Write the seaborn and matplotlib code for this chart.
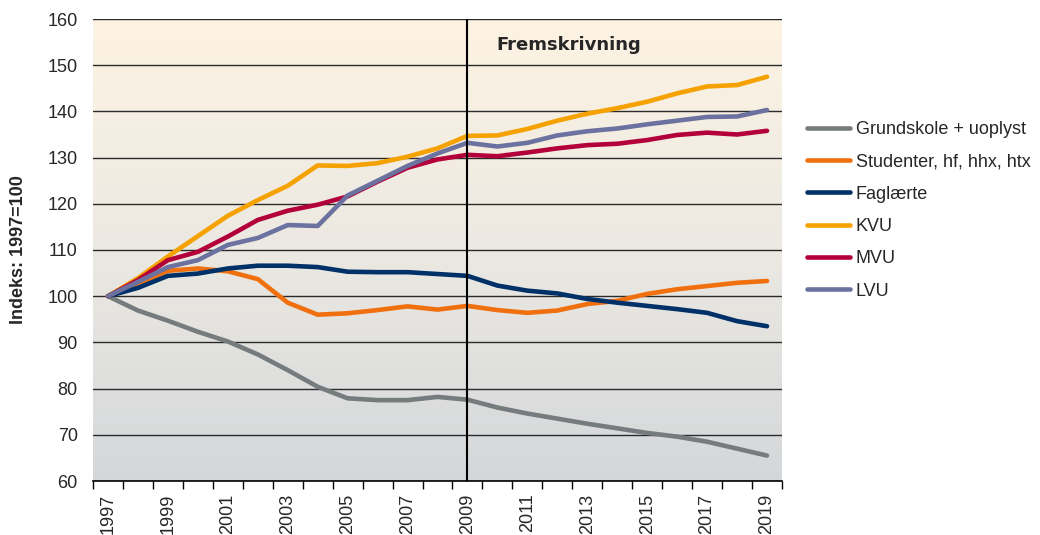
import numpy as np
import pandas as pd
import matplotlib
matplotlib.use("Agg")
import matplotlib.pyplot as plt
from matplotlib.ticker import FixedLocator, NullFormatter
from matplotlib.lines import Line2D
import seaborn as sns

years = list(range(1997, 2020))
grundskole = [100, 96.9, 94.7, 92.3, 90.2, 87.4, 84.0, 80.4, 77.9, 77.5, 77.5, 78.2, 77.6,
              75.9, 74.6, 73.5, 72.4, 71.4, 70.4, 69.6, 68.5, 67.0, 65.5]
studenter = [100, 102.3, 105.5, 106.0, 105.4, 103.7, 98.6, 96.0, 96.3, 97.0, 97.8, 97.1, 97.9,
             97.0, 96.4, 96.9, 98.3, 99.0, 100.5, 101.5, 102.2, 102.9, 103.3]
faglaerte = [100, 101.8, 104.4, 104.9, 106.0, 106.6, 106.6, 106.3, 105.3, 105.2, 105.2, 104.8, 104.4,
             102.3, 101.2, 100.6, 99.4, 98.6, 97.9, 97.2, 96.4, 94.6, 93.5]
kvu = [100, 103.9, 108.6, 113.0, 117.4, 120.8, 123.9, 128.3, 128.2, 128.8, 130.2, 132.0, 134.7,
       134.8, 136.2, 138.0, 139.5, 140.7, 142.1, 143.9, 145.4, 145.7, 147.5]
mvu = [100, 103.5, 107.8, 109.6, 112.9, 116.5, 118.5, 119.8, 121.6, 124.8, 127.8, 129.6, 130.6,
       130.3, 131.1, 132.0, 132.7, 133.0, 133.8, 134.9, 135.4, 135.0, 135.8]
lvu = [100, 103.1, 106.3, 107.8, 111.1, 112.6, 115.4, 115.2, 121.8, 125.0, 128.2, 130.9, 133.2,
       132.4, 133.2, 134.8, 135.7, 136.3, 137.2, 138.0, 138.8, 138.9, 140.3]

series_names = ["Grundskole + uoplyst", "Studenter, hf, hhx, htx", "Faglærte", "KVU", "MVU", "LVU"]
series_values = [grundskole, studenter, faglaerte, kvu, mvu, lvu]
colors = ["#767b7e", "#f0700f", "#003068", "#f5a200", "#b3003b", "#6b72a0"]

y_ticks = list(range(60, 161, 10))
x_labels = list(range(1997, 2020, 2))
divider_year = 2009
annotation = "Fremskrivning"
y_label = "Indeks: 1997=100"

rows = []
for name, vals in zip(series_names, series_values):
    for yr, v in zip(years, vals):
        rows.append({"year": yr, "value": v, "series": name})
df = pd.DataFrame(rows)

sns.set_style("white")
plt.rcParams["font.family"] = ["Liberation Sans", "DejaVu Sans"]

fig = plt.figure(figsize=(10.4, 5.35), dpi=100)
ax = fig.add_axes([93 / 1040, 1 - 481 / 535, (782 - 93) / 1040, (481 - 19) / 535])

# gradient background
top = np.array([253, 243, 227]) / 255
mid = np.array([236, 233, 226]) / 255
bot = np.array([212, 215, 218]) / 255
t = np.linspace(0, 1, 256)[:, None]
grad = np.where(t < 0.5, top + (mid - top) * (t / 0.5), mid + (bot - mid) * ((t - 0.5) / 0.5))
ax.imshow(grad[:, None, :], extent=[0, 1, 0, 1], transform=ax.transAxes,
          aspect="auto", zorder=0, interpolation="bilinear")

sns.lineplot(data=df, x="year", y="value", hue="series", hue_order=series_names,
             palette=colors, linewidth=3.3, ax=ax, legend=False, zorder=3,
             solid_capstyle="round", solid_joinstyle="round")

ax.set_xlim(1996.5, 2019.5)
ax.set_ylim(60, 160)
ax.set_yticks(y_ticks)
ax.set_yticklabels([str(v) for v in y_ticks], fontsize=13)
ax.yaxis.grid(True, color="#2a2a2a", linewidth=1.0, zorder=1)
ax.tick_params(axis="y", length=0, pad=11)

ax.set_xticks(x_labels)
ax.set_xticklabels([str(v) for v in x_labels], rotation=90, fontsize=13)
ax.xaxis.set_minor_locator(FixedLocator(np.arange(1996.5, 2020, 1.0)))
ax.xaxis.set_minor_formatter(NullFormatter())
ax.tick_params(axis="x", which="major", length=0, pad=9)
ax.tick_params(axis="x", which="minor", length=6, width=1, color="black", direction="out", bottom=True)

for s in ["top", "right", "left"]:
    ax.spines[s].set_visible(False)
ax.spines["bottom"].set_color("black")
ax.spines["bottom"].set_linewidth(1.2)

ax.axvline(divider_year, color="black", linewidth=1.5, zorder=4)
ax.text(divider_year + 0.97, 154.4, annotation, fontsize=13, fontweight="bold",
        family=["DejaVu Sans"], ha="left", va="center", zorder=5)

ax.set_xlabel("")
ax.set_ylabel(y_label, fontsize=13, fontweight="bold", labelpad=15)

handles = [Line2D([0], [0], color=c, linewidth=3.3, solid_capstyle="round") for c in colors]
fig.legend(handles, series_names, loc="upper left", bbox_to_anchor=(807 / 1040, 1 - 121 / 535),
           frameon=False, fontsize=13, handlelength=2.4, handletextpad=0.3,
           labelspacing=0.85, borderpad=0, borderaxespad=0)

fig.savefig("out.png", dpi=100)
